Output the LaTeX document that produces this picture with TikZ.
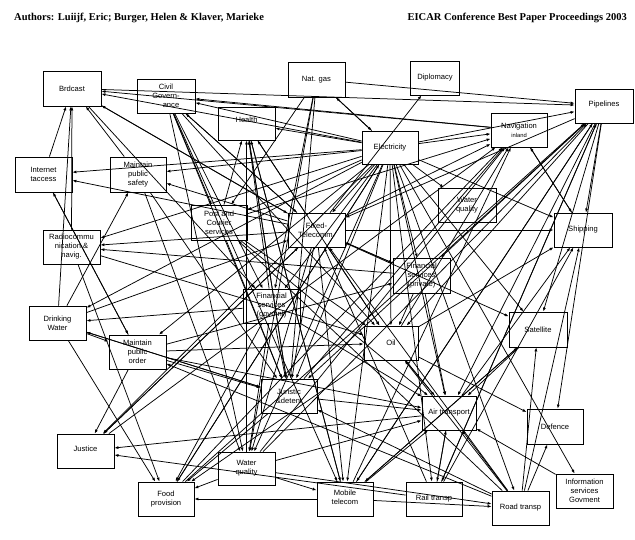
\documentclass[tikz,border=0pt]{standalone}
\usepackage{fontspec}
\setmainfont{Liberation Serif}
\newfontfamily\boxfont{Liberation Sans}
\usetikzlibrary{arrows.meta}
\begin{document}
\begin{tikzpicture}[x=1pt,y=-1pt,
  box/.style={draw, line width=0.8pt, minimum width=57pt, minimum height=34pt, inner sep=1pt, align=center, font=\boxfont\fontsize{7.6}{9}\selectfont},
  conn/.style={line width=0.75pt, -{Latex[length=4pt,width=3pt]}},
  head/.style={font=\bfseries\fontsize{10.5}{12}\selectfont, inner sep=0pt}]
\useasboundingbox (0,0) rectangle (635,540);
\node[head, anchor=base west] (auth) at (14,20.5) {Authors: Luiijf, Eric; Burger, Helen \& Klaver, Marieke};
\node[head, anchor=base east] (conf) at (627,20.5) {EICAR Conference Best Paper Proceedings 2003};

\node[box,minimum width=58pt,minimum height=35pt] (bc) at (72,88.5) {Brdcast};
\node[box,minimum width=58pt] (cg) at (166,96) {Civil\\Govern-\\\hspace*{10pt}ance};
\node[box,minimum height=33pt] (he) at (246.5,123.5) {\raisebox{7pt}{Health}};
\node[box,minimum height=35pt] (ng) at (316.5,79.5) {Nat. gas};
\node[box,minimum width=49pt] (di) at (435,78) {Diplomacy};
\node[box,minimum width=58pt] (pl) at (604,106) {\raisebox{5pt}{Pipelines}};
\node[box,minimum width=56pt] (nav) at (519,130) {Navigation\\{\fontsize{5.8}{6.5}\selectfont inland}};
\node[box,minimum width=56pt,minimum height=33pt] (el) at (390,147.5) {Electricity};
\node[box,minimum height=35pt] (ia) at (43.5,174.5) {Internet\\taccess};
\node[box,minimum width=56pt,minimum height=35pt] (mps) at (138,174.5) {Maintain\\public\\safety};
\node[box,minimum width=56pt,minimum height=35pt] (pc) at (219,222.5) {Post and\\Courier\\services};
\node[box] (ft) at (316.5,230) {Fixed-\\Telecomm.};
\node[box,minimum width=58pt] (wq1) at (467,205) {Water\\quality};
\node[box,minimum width=58pt] (sh) at (583,230) {Shipping};
\node[box] (rc) at (71.5,247) {Radiocommu\\nication \&\\navig.};
\node[box,minimum height=35pt] (fp) at (421.5,275.5) {Financial\\services\\(private)};
\node[box] (fg) at (271.5,306) {Financial\\services\\(govmnt)};
\node[box] (dw) at (57.5,323) {Drinking\\Water};
\node[box] (mpo) at (137.5,352) {Maintain\\public\\order};
\node[box,minimum width=54pt] (oil) at (391,343) {Oil};
\node[box,minimum width=58pt,minimum height=35pt] (sat) at (538,329.5) {Satellite};
\node[box,minimum width=56pt] (jd) at (289,396) {Juristic\\\&detent};
\node[box,minimum width=54pt] (air) at (449,413) {Air transport};
\node[box,minimum width=56pt,minimum height=35pt] (def) at (555,426.5) {Defence};
\node[box] (ju) at (85.5,451) {\raisebox{5pt}{Justice}};
\node[box,minimum height=33pt] (wq2) at (246.5,468.5) {Water\\quality};
\node[box,minimum width=56pt] (fo) at (166,499) {Food\\provision};
\node[box,minimum width=56pt] (mt) at (345,499) {\raisebox{4pt}{\shortstack{Mobile\\telecom}}};
\node[box,minimum width=56pt] (rt) at (434,499) {Rail transp};
\node[box] (rd) at (520.5,508) {Road transp};
\node[box] (isg) at (584.5,491) {Information\\services\\Govment};

\foreach \a/\b in {el/bc, el/cg, el/he, el/ia, el/mps, el/pc, el/ft, el/rc, el/fg, el/fp,
  el/dw, el/mpo, el/oil, el/jd, el/ju, el/wq2, el/fo, el/mt, el/rt, el/rd, el/air, el/sat,
  el/wq1, el/nav, el/pl, el/isg, el/sh,
  ng/el, el/ng, ft/di,
  bc/pl, nav/bc, ft/bc, bc/ft, rc/bc, dw/bc, mps/bc, ia/bc,
  cg/ft, ft/cg, cg/pc, cg/fg, cg/jd, cg/wq2, nav/cg, cg/mt,
  ft/he, pc/he, fg/he, jd/he, wq2/he, mt/he,
  ng/pc, ng/fg, ng/jd, ng/wq2, ng/pl, pc/nav, ft/nav,
  pl/sh, pl/fp, pl/oil, pl/air, pl/mt, pl/rt, pl/sat, pl/ft, pl/jd, pl/def,
  nav/sh, sh/nav, oil/nav, wq2/nav, mt/nav, fo/nav, jd/nav,
  ft/sh, oil/sh, air/sh, rt/sh, rd/sh,
  ft/rc, fp/rc, ft/fp, fp/ft,
  fg/dw, jd/dw, dw/mpo, dw/fo,
  mpo/jd, mpo/ju, ft/ju, air/ju, rt/ju,
  fg/fo, oil/fo, jd/fo, wq2/fo, mt/fo,
  ft/wq2, fg/wq2, wq2/rd, wq2/mt,
  ft/mt, mt/rd, mt/air, mt/sat,
  rt/air, air/rt, rt/ft,
  rd/oil, rd/jd, rd/mpo, rd/ft, rd/pc, rd/air, rd/sat, rd/def,
  oil/def, ft/sat, sat/air, sat/mt,
  fp/oil, pc/oil, ft/oil, he/oil, mpo/oil, oil/air, air/oil,
  fp/air, mpo/air, jd/air, fg/air, pc/air, wq2/air,
  ft/jd, fg/jd, pc/jd, he/jd,
  isg/air, mpo/ia, ft/ia, ft/mps, dw/mps,
  rc/fo, ia/mpo, mps/jd, rc/oil, dw/ft, dw/jd, mpo/fp, ju/ft, fo/el, fo/pl,
  wq2/pl, mt/pl, rt/pl, bc/fg, cg/oil, he/mt, mps/wq2, ju/nav}
  \draw[conn] (\a) -- (\b);
\end{tikzpicture}
\end{document}
